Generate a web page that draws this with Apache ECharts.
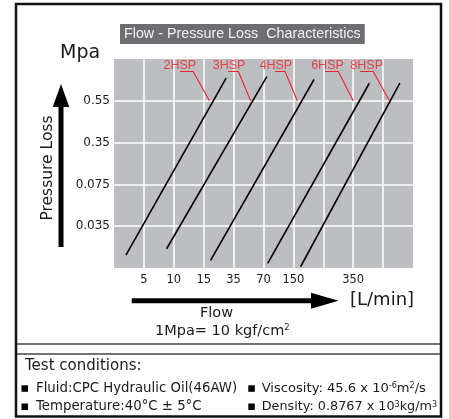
<!DOCTYPE html>
<html>
<head>
<meta charset="utf-8">
<script src="https://cdn.jsdelivr.net/npm/echarts@6/dist/echarts.min.js"></script>
<style>
html,body{margin:0;padding:0;background:#fff;}
#c{width:449px;height:419px;}
</style>
</head>
<body>
<div id="c"></div>
<script>
// ---- data (axis positions are tick indices on the chart's stepped scales) ----
const flowTicks = ['', '5', '10', '15', '35', '70', '150', '', '350', '', ''];
const pressureTicks = ['', '0.035', '0.075', '0.35', '0.55', ''];
const models = ['2HSP', '3HSP', '4HSP', '6HSP', '8HSP'];
const lineStart = [[0.40, 0.31], [1.76, 0.46], [3.23, 0.18], [5.14, 0.11], [6.24, 0.03]];
const lineEnd   = [[3.75, 4.54], [5.11, 4.58], [6.69, 4.51], [8.54, 4.42], [9.56, 4.42]];
const labelPos  = [[2.20, 4.84], [3.85, 4.84], [5.41, 4.84], [7.14, 4.84], [8.45, 4.84]];
const leaderStart = [[2.21, 4.70], [3.82, 4.70], [5.39, 4.70], [7.06, 4.70], [8.23, 4.70]];
const leaderBend  = [[2.65, 4.70], [4.16, 4.70], [5.72, 4.70], [7.50, 4.70], [8.67, 4.70]];
const leaderTip   = [[3.19, 4.00], [4.57, 4.00], [6.13, 4.00], [8.00, 4.00], [9.21, 4.00]];

const RED = '#ee2228';
const TXT = '#1a1a1a';
const chart = echarts.init(document.getElementById('c'), null, {renderer: 'canvas'});

const series = models.map((m, i) => ({
  type: 'line',
  name: m,
  data: [lineStart[i], lineEnd[i]],
  symbol: 'none',
  lineStyle: {color: '#000', width: 1.6},
  z: 3
}));
series.push({
  type: 'lines',
  coordinateSystem: 'cartesian2d',
  polyline: true,
  symbol: ['none', 'arrow'],
  symbolSize: 7,
  lineStyle: {color: RED, width: 1.1, opacity: 1},
  data: models.map((m, i) => ({coords: [leaderStart[i], leaderBend[i], leaderTip[i]]})),
  z: 4
});
series.push({
  type: 'scatter',
  symbolSize: 1,
  itemStyle: {color: 'transparent'},
  label: {show: true, position: 'inside', formatter: '{b}', color: RED,
          fontFamily: 'Liberation Sans', fontSize: 12.5},
  data: models.map((m, i) => ({name: m, value: labelPos[i]})),
  z: 5
});

const mkSup = (size) => ({a: {fontSize: size, fontFamily: 'DejaVu Sans', fill: TXT},
             s: {fontSize: 8, fontFamily: 'DejaVu Sans', fill: TXT, verticalAlign: 'top'}});

const T = (x, y, text, size, extra) => ({
  type: 'text', x: x, y: y,
  style: Object.assign({text: text, fill: TXT, fontFamily: 'DejaVu Sans', fontSize: size,
    textAlign: 'left', textVerticalAlign: 'middle'}, extra || {})
});

chart.setOption({
  animation: false,
  textStyle: {fontFamily: 'DejaVu Sans'},
  title: {
    text: 'Flow - Pressure Loss  Characteristics',
    left: 120, top: 24,
    backgroundColor: '#6d6e71',
    padding: [3, 4, 3, 4],
    textStyle: {color: '#f2f2f2', fontFamily: 'Liberation Sans', fontSize: 14.3, fontWeight: 'normal'}
  },
  grid: {left: 114, top: 59, width: 299, height: 209, show: true,
         backgroundColor: '#bdbec1', borderWidth: 0},
  xAxis: {
    type: 'value', min: 0, max: 10, interval: 1,
    axisLine: {show: false}, axisTick: {show: false},
    splitLine: {show: true, showMinLine: false, showMaxLine: false, lineStyle: {color: '#fff', width: 1.5}},
    axisLabel: {margin: 6, color: TXT, fontSize: 11.5, fontFamily: 'DejaVu Sans',
                formatter: v => flowTicks[Math.round(v)] || ''}
  },
  yAxis: {
    type: 'value', min: 0, max: 5, interval: 1,
    axisLine: {show: false}, axisTick: {show: false},
    splitLine: {show: true, showMinLine: false, showMaxLine: false, lineStyle: {color: '#fff', width: 1.5}},
    axisLabel: {margin: 4, color: TXT, fontSize: 12, fontFamily: 'DejaVu Sans',
                formatter: v => pressureTicks[Math.round(v)] || ''}
  },
  series: series,
  graphic: [
    {type: 'rect', shape: {x: 16, y: 4, width: 425, height: 412.5},
     style: {fill: 'none', stroke: '#111', lineWidth: 2.5}, z: 10},
    {type: 'line', shape: {x1: 16, y1: 344, x2: 441, y2: 344}, style: {stroke: '#444', lineWidth: 1.5}},
    {type: 'line', shape: {x1: 16, y1: 354, x2: 441, y2: 354}, style: {stroke: '#444', lineWidth: 1.5}},
    T(60, 53, 'Mpa', 19),
    // y arrow
    {type: 'rect', shape: {x: 58.5, y: 104, width: 5, height: 143}, style: {fill: '#000'}},
    {type: 'polygon', shape: {points: [[61, 84], [52.7, 107], [69.3, 107]]}, style: {fill: '#000'}},
    {type: 'text', x: 48, y: 168, rotation: Math.PI / 2,
     style: {text: 'Pressure Loss', fill: TXT, fontFamily: 'DejaVu Sans', fontSize: 15.5,
             textAlign: 'center', textVerticalAlign: 'middle'}},
    // x arrow
    {type: 'rect', shape: {x: 131.7, y: 298.2, width: 181, height: 5}, style: {fill: '#000'}},
    {type: 'polygon', shape: {points: [[311, 292.7], [338.5, 300.7], [311, 308.7]]}, style: {fill: '#000'}},
    T(350, 300.5, '[L/min]', 18),
    T(216.5, 313, 'Flow', 14.5, {textAlign: 'center'}),
    T(155, 331, '{b|1Mpa= 10 kgf/cm}{t|2}', 14.5, {rich: {
      b: {fontSize: 14.5, fontFamily: 'DejaVu Sans', fill: TXT},
      t: {fontSize: 8.5, fontFamily: 'DejaVu Sans', fill: TXT, verticalAlign: 'top'}}}),
    T(25, 366.5, 'Test conditions:', 15),
    {type: 'rect', shape: {x: 21.5, y: 385.3, width: 6.5, height: 6.5}, style: {fill: '#000'}},
    {type: 'rect', shape: {x: 21.5, y: 403.5, width: 6.5, height: 6.5}, style: {fill: '#000'}},
    {type: 'rect', shape: {x: 248.3, y: 385.3, width: 6.5, height: 6.5}, style: {fill: '#000'}},
    {type: 'rect', shape: {x: 248.3, y: 403.5, width: 6.5, height: 6.5}, style: {fill: '#000'}},
    T(36, 388.5, 'Fluid:CPC Hydraulic Oil(46AW)', 13.3),
    T(36, 407, 'Temperature:40°C ± 5°C', 13.3),
    T(261.7, 388.5, '{a|Viscosity: 45.6 x 10}{s|-6}{a|m}{s|2}{a|/s}', 13.1, {rich: mkSup(13.1)}),
    T(261.7, 407, '{a|Density: 0.8767 x 10}{s|3}{a|kg/m}{s|3}', 12.8, {rich: mkSup(12.8)})
  ]
});
</script>
</body>
</html>
